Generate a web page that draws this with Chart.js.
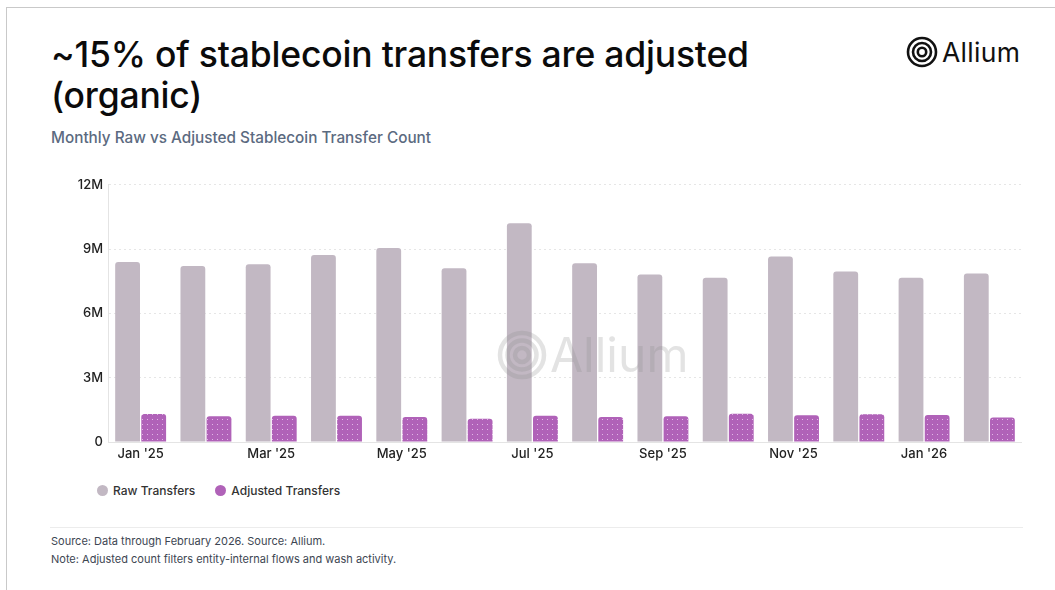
<!DOCTYPE html>
<html>
<head>
<meta charset="utf-8">
<script src="https://cdn.jsdelivr.net/npm/chart.js@4.4.1/dist/chart.umd.min.js"></script>
<style>
  html, body { margin: 0; padding: 0; background: #fff; }
  body { width: 1055px; height: 590px; position: relative; overflow: hidden; font-family: Inter, "Noto Sans", sans-serif; }
  .frame { position: absolute; left: 6px; top: 7px; right: 0; bottom: 0; border-left: 1px solid #c9c9c9; border-top: 1px solid #c9c9c9; }
  h1 { position: absolute; left: 51px; top: 34px; margin: 0; font-size: 35.5px; font-weight: 500; line-height: 41px; color: #0b0b0b; letter-spacing: -0.2px; width: 800px; }
  .sub { position: absolute; left: 51px; top: 128px; font-size: 15.3px; font-weight: 500; color: #5b6a80; letter-spacing: 0; }
  .logo { position: absolute; left: 906px; top: 36px; display: flex; align-items: center; }
  .logo span { font-size: 26.5px; font-weight: 400; color: #111; margin-left: 4px; letter-spacing: 0.3px; }
  #wrap { position: absolute; left: 50px; top: 172px; width: 972px; height: 298px; }
  .legend { position: absolute; left: 97px; top: 483px; display: flex; font-size: 12px; font-weight: 500; color: #333; }
  .legend div { display: flex; align-items: center; margin-right: 20px; }
  .legend i { width: 11px; height: 11px; border-radius: 50%; margin-right: 5px; display: inline-block; }
  .rule { position: absolute; left: 50px; top: 527px; width: 973px; height: 1px; background: #ececec; }
  .foot { position: absolute; left: 51px; font-size: 11px; color: #3d4652; }
</style>
</head>
<body>
<div class="frame"></div>
<h1>~15% of stablecoin transfers are adjusted (organic)</h1>
<div class="sub">Monthly Raw vs Adjusted Stablecoin Transfer Count</div>
<div class="logo">
  <svg width="32" height="32" viewBox="0 0 32 32">
    <circle cx="16" cy="16" r="14" fill="none" stroke="#111" stroke-width="2.6"/>
    <circle cx="16" cy="16" r="9" fill="none" stroke="#111" stroke-width="2.6"/>
    <circle cx="16" cy="16" r="4.2" fill="none" stroke="#111" stroke-width="2.6"/>
  </svg>
  <span>Allium</span>
</div>
<div id="wrap"><canvas id="chart"></canvas></div>
<div class="legend" id="legend"></div>
<div class="rule"></div>
<div class="foot" style="top:534px">Source: Data through February 2026. Source: Allium.</div>
<div class="foot" style="top:552px">Note: Adjusted count filters entity-internal flows and wash activity.</div>

<script>
  // monthly transfer counts, millions
  var months = ["Jan '25", "Feb '25", "Mar '25", "Apr '25", "May '25", "Jun '25", "Jul '25",
                "Aug '25", "Sep '25", "Oct '25", "Nov '25", "Dec '25", "Jan '26", "Feb '26"];
  var rawTransfers = [8.40, 8.21, 8.29, 8.72, 9.05, 8.11, 10.21, 8.34, 7.81, 7.66, 8.66, 7.95, 7.66, 7.86];
  var adjustedTransfers = [1.31, 1.20, 1.23, 1.23, 1.17, 1.08, 1.23, 1.17, 1.20, 1.32, 1.25, 1.29, 1.26, 1.14];
  var yTicks = [0, 3, 6, 9, 12];

  var RAW_COLOR = "#c2b8c3";
  var ADJ_COLOR = "#b062b8";

  // dotted fill for the adjusted bars
  function dotPattern() {
    var c = document.createElement("canvas");
    c.width = 5; c.height = 5;
    var g = c.getContext("2d");
    g.fillStyle = ADJ_COLOR;
    g.fillRect(0, 0, 5, 5);
    g.fillStyle = "rgba(235,200,238,0.85)";
    g.fillRect(2, 2, 1, 1);
    return g.createPattern(c, "repeat");
  }

  // faint logo mark over the plot
  var watermark = {
    id: "watermark",
    afterDatasetsDraw: function (chart) {
      var ctx = chart.ctx;
      var cx = 472, cy = 183;
      ctx.save();
      ctx.strokeStyle = "rgba(140,140,140,0.24)";
      ctx.lineWidth = 4.5;
      [22, 14.5, 7].forEach(function (r) {
        ctx.beginPath();
        ctx.arc(cx, cy, r, 0, Math.PI * 2);
        ctx.stroke();
      });
      ctx.fillStyle = "rgba(140,140,140,0.24)";
      ctx.font = "400 48px Inter, sans-serif";
      ctx.textBaseline = "middle";
      ctx.fillText("Allium", cx + 28, cy + 3);
      ctx.restore();
    }
  };

  var datasets = [
    { label: "Raw Transfers", data: rawTransfers, backgroundColor: RAW_COLOR, swatch: RAW_COLOR },
    { label: "Adjusted Transfers", data: adjustedTransfers, backgroundColor: dotPattern(), swatch: ADJ_COLOR }
  ];
  datasets.forEach(function (d) {
    d.borderRadius = { topLeft: 3, topRight: 3 };
    d.borderSkipped = "bottom";
    d.categoryPercentage = 0.8;
    d.barPercentage = 0.95;
  });

  document.getElementById("legend").innerHTML = datasets.map(function (d) {
    return '<div><i style="background:' + d.swatch + '"></i>' + d.label + "</div>";
  }).join("");

  var tickFont = { family: "Inter, sans-serif", size: 13, weight: "500" };

  new Chart(document.getElementById("chart"), {
    type: "bar",
    data: { labels: months, datasets: datasets },
    plugins: [watermark],
    options: {
      responsive: true,
      maintainAspectRatio: false,
      animation: false,
      layout: { padding: { top: 10, right: 0, left: 0, bottom: 0 } },
      plugins: { legend: { display: false }, tooltip: { enabled: false } },
      scales: {
        x: {
          grid: { display: false, drawTicks: false },
          border: { color: "#e4e4e4" },
          ticks: {
            color: "#222", font: tickFont, padding: 4, maxRotation: 0, autoSkip: false,
            callback: function (v, i) { return i % 2 === 0 ? months[i] : ""; }
          },
          afterFit: function (s) { s.height = 28; }
        },
        y: {
          min: 0, max: 12,
          afterBuildTicks: function (s) { s.ticks = yTicks.map(function (v) { return { value: v }; }); },
          grid: { color: "#e6e6e6", drawTicks: false, lineWidth: 1 },
          border: { color: "#e4e4e4", dash: [2, 3] },
          ticks: {
            color: "#222", font: tickFont, padding: 5,
            callback: function (v) { return v === 0 ? "0" : v + "M"; }
          },
          afterFit: function (s) { s.width = 58; }
        }
      }
    }
  });
</script>
</body>
</html>
